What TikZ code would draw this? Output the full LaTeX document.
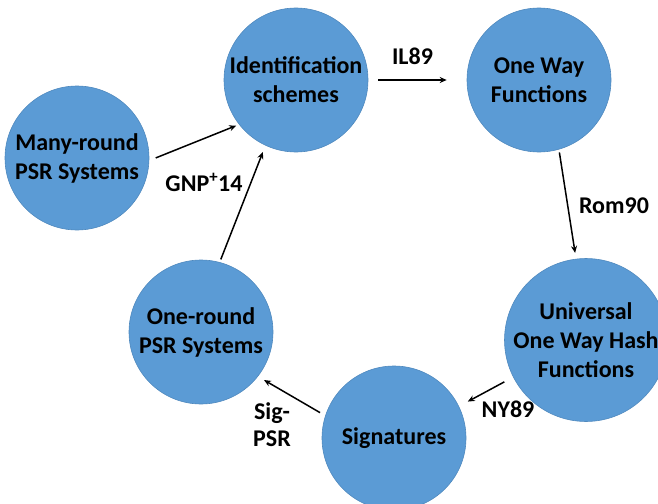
\documentclass[tikz,border=0pt]{standalone}
\usepackage{fontspec}
\setmainfont{Carlito}
\usetikzlibrary{arrows.meta}
\definecolor{nodeblue}{HTML}{5B9BD5}
\definecolor{nodeedge}{HTML}{4F89BE}
\tikzset{
  bubble/.style={circle, fill=nodeblue, draw=nodeedge, line width=0.6pt,
    minimum size=144pt, inner sep=0pt, align=center,
    font=\fontsize{24}{29}\selectfont\bfseries},
  lbl/.style={font=\fontsize{24}{27}\selectfont\bfseries, align=center, inner sep=0pt},
  arr/.style={-{Stealth[length=7pt,width=6pt]}, line width=1.5pt, black}
}
\begin{document}
\begin{tikzpicture}[x=1pt,y=-1pt]
\useasboundingbox (0,0) rectangle (658,503);
\node[bubble] (id)  at (296,80)  {Identification\\schemes};
\node[bubble] (owf) at (539,80)  {One Way\\Functions};
\node[bubble] (mr)  at (77,158)  {Many-round\\PSR Systems};
\node[bubble] (or)  at (201,332) {One-round\\PSR Systems};
\node[bubble] (uow) at (586,340) {Universal\\One Way Hash\\Functions};
\node[bubble] (sig) at (394,438) {Signatures};

\draw[arr, shorten <=7pt, shorten >=3pt] (mr.-2) -- (id.218);
\draw[arr, shorten <=3pt, shorten >=7pt] (or.75) -- (id.-115);
\draw[arr, shorten <=10pt, shorten >=20pt] (id.0) -- (owf.180);
\draw[arr, shorten <=3pt, shorten >=6pt] (owf.-74.5) -- (uow.97.4);
\draw[arr, shorten <=10pt, shorten >=10pt] (uow.207.5) -- (sig.26);
\draw[arr, shorten <=6pt, shorten >=7pt] (sig.162) -- (or.-38.7);

\node[lbl] (l1) at (412.5,56) {IL89};
\node[lbl] (l2) at (204,182) {GNP\textsuperscript{+}14};
\node[lbl] (l3) at (614,206) {Rom90};
\node[lbl] (l4) at (508,409) {NY89};
\node[lbl] (l5) at (272,425) {Sig-\\PSR};
\end{tikzpicture}
\end{document}
